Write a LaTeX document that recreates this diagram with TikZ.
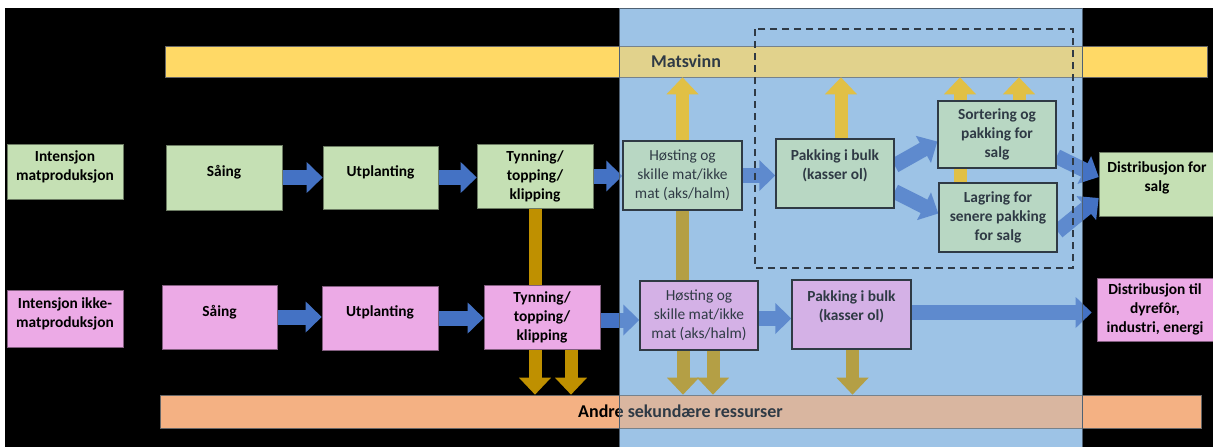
\documentclass[tikz,border=0pt]{standalone}
\usepackage{fontspec}
\setmainfont{Carlito}
\usetikzlibrary{arrows.meta,positioning,backgrounds}
\pgfdeclarelayer{back}
\pgfdeclarelayer{flow}
\pgfdeclarelayer{front}
\pgfsetlayers{back,flow,main,front}
\definecolor{grnfill}{RGB}{197,224,180}
\definecolor{pnkfill}{RGB}{236,170,230}
\definecolor{panelblue}{RGB}{157,195,230}
\definecolor{ylwbar}{RGB}{255,217,102}
\definecolor{orgbar}{RGB}{244,177,131}
\definecolor{arrblue}{RGB}{68,114,196}
\definecolor{arryel}{RGB}{255,192,0}
\definecolor{arrgold}{RGB}{191,144,0}
\tikzset{
  sz/.style 2 args={minimum width=#1pt, minimum height=#2pt},
  up/.style={text depth=#1pt},
  box/.style={rectangle, align=center, inner sep=2pt,
              font=\fontsize{15.4}{19}\selectfont\bfseries},
  gbox/.style={box, fill=grnfill, draw=grnfill!55!black, line width=0.6pt},
  pbox/.style={box, fill=pnkfill, draw=pnkfill!55!black, line width=0.6pt},
  inbox/.style={draw=black, line width=1.4pt},
  bar/.style={rectangle, draw=black!60, line width=0.6pt,
              font=\fontsize{18}{22}\selectfont\bfseries},
  bluearr/.style={draw=arrblue, line width=15pt, -{Triangle[length=16pt,width=30pt]}},
  ylwarr/.style={draw=arryel, line width=13pt, -{Triangle[length=17pt,width=31pt]}},
  goldarr/.style={draw=arrgold, line width=13pt, -{Triangle[length=17pt,width=31pt]}},
  goldbar/.style={draw=arrgold, line width=13pt},
}
\begin{document}
\begin{tikzpicture}[x=1pt,y=-1pt]
  \useasboundingbox (0,0) rectangle (1213,447);
  \begin{pgfonlayer}{back}
    \fill[white] (0,0) rectangle (1213,447);
    \fill[black] (5,8) rectangle (1213,447);
    \fill[panelblue] (619,8) rectangle (1082,447);
    \node[bar, fill=ylwbar, sz={1042}{31}] (matsvinn) at (686,61.5) {Matsvinn};
    \node[bar, fill=orgbar, sz={1041}{33}] (andre) at (680.5,411.5) {Andre sekundære ressurser};
  \end{pgfonlayer}

  % matproduksjon
  \node[gbox, up=12, sz={116}{55}] (intA) at (65,171.5) {Intensjon\\matproduksjon};
  \node[gbox, up=13, sz={116}{65}] (saingA) at (224,177.5) {Såing};
  \node[gbox, up=13, sz={115}{63}] (utplA) at (380.5,177.5) {Utplanting};
  \node[gbox, sz={116}{64}] (tynA) at (535,176) {Tynning/\\topping/\\klipping};
  \node[gbox, inbox, sz={119}{69}, font=\fontsize{15.4}{19}\selectfont\mdseries] (hoesA) at (682.5,175.5) {Høsting og\\skille mat/ikke\\mat (aks/halm)};
  \node[gbox, inbox, up=17, sz={118}{69}] (pakkA) at (835,173.5) {Pakking i bulk\\(kasser ol)};
  \node[gbox, inbox, sz={118}{67}] (sortA) at (997,134.5) {Sortering og\\pakking for\\salg};
  \node[gbox, inbox, sz={118}{69}] (lagrA) at (998,217.5) {Lagring for\\senere pakking\\for salg};
  \node[gbox, up=14, sz={116}{64}] (distA) at (1157,184) {Distribusjon for\\salg};

  % ikke-matproduksjon
  \node[pbox, up=12, sz={116}{57}] (intB) at (65,318.5) {Intensjon ikke-\\matproduksjon};
  \node[pbox, up=13, sz={115}{64}] (saingB) at (219.5,317) {Såing};
  \node[pbox, up=13, sz={116}{64}] (utplB) at (380,318) {Utplanting};
  \node[pbox, sz={116}{64}] (tynB) at (542,317) {Tynning/\\topping/\\klipping};
  \node[pbox, inbox, sz={118}{69}, font=\fontsize{15.4}{19}\selectfont\mdseries] (hoesB) at (699,315.5) {Høsting og\\skille mat/ikke\\mat (aks/halm)};
  \node[pbox, inbox, up=17, sz={119}{69}] (pakkB) at (851.5,314.5) {Pakking i bulk\\(kasser ol)};
  \node[pbox, sz={116}{63}] (distB) at (1155,309.5) {Distribusjon til\\dyrefôr,\\industri, energi};

  \begin{pgfonlayer}{flow}
    % flyt
    \draw[bluearr] (saingA.east) -- (utplA.west);
    \draw[bluearr] (utplA.east) -- (utplA.east -| tynA.west);
    \draw[bluearr] (tynA.east) -- (tynA.east -| hoesA.west);
    \draw[bluearr] (hoesA.east) -- (hoesA.east -| pakkA.west);
    \draw[bluearr] ([yshift=8pt]pakkA.east) -- ([yshift=-7pt]sortA.west);
    \draw[bluearr] ([yshift=-18pt]pakkA.east) -- ([yshift=4pt]lagrA.west);
    \draw[bluearr] ([yshift=-22pt]sortA.east) -- ([yshift=7pt]distA.west);
    \draw[bluearr] ([yshift=-14pt]lagrA.east) -- ([yshift=-14pt]distA.west);
    \draw[bluearr] (saingB.east) -- (saingB.east -| utplB.west);
    \draw[bluearr] (utplB.east) -- (utplB.east -| tynB.west);
    \draw[bluearr] ([yshift=-3pt]tynB.east) -- ([yshift=-3pt]tynB.east -| hoesB.west);
    \draw[bluearr] ([yshift=-3pt]hoesB.east) -- ([yshift=-3pt]hoesB.east -| pakkB.west);
    \draw[bluearr, shorten >=5pt] ([yshift=2pt]pakkB.east) -- ([yshift=2pt]pakkB.east -| distB.west);
    % matsvinn
    \draw[ylwarr] (hoesA.north) -- (hoesA.north |- matsvinn.south);
    \draw[ylwarr] ([xshift=6pt]pakkA.north) -- ([xshift=6pt]pakkA.north |- matsvinn.south);
    \draw[ylwarr] ([xshift=-38pt]lagrA.north) -- ([xshift=-38pt]lagrA.north |- matsvinn.south);
    \draw[ylwarr] ([xshift=22pt]sortA.north) -- ([xshift=22pt]sortA.north |- matsvinn.south);
    % sekundaere ressurser
    \draw[goldbar] (tynA.south) -- (tynA.south |- tynB.north);
    \draw[goldbar] (hoesA.south) -- (hoesA.south |- hoesB.north);
    \draw[goldarr] ([xshift=-7pt]tynB.south) -- ([xshift=-7pt]tynB.south |- andre.north);
    \draw[goldarr] ([xshift=29pt]tynB.south) -- ([xshift=29pt]tynB.south |- andre.north);
    \draw[goldarr] ([xshift=-16pt]hoesB.south) -- ([xshift=-16pt]hoesB.south |- andre.north);
    \draw[goldarr] ([xshift=14pt]hoesB.south) -- ([xshift=14pt]hoesB.south |- andre.north);
    \draw[goldarr] ([xshift=1pt]pakkB.south) -- ([xshift=1pt]pakkB.south |- andre.north);
  \end{pgfonlayer}

  \begin{pgfonlayer}{front}
    \draw[black, line width=1.8pt, dash pattern=on 7pt off 5pt] (755,29) rectangle (1073,268);
    \fill[panelblue, fill opacity=0.3] (619,8) rectangle (1082,447);
    \draw[panelblue!50!black, line width=0.8pt] (619,8) rectangle (1082,447);
  \end{pgfonlayer}
\end{tikzpicture}
\end{document}
